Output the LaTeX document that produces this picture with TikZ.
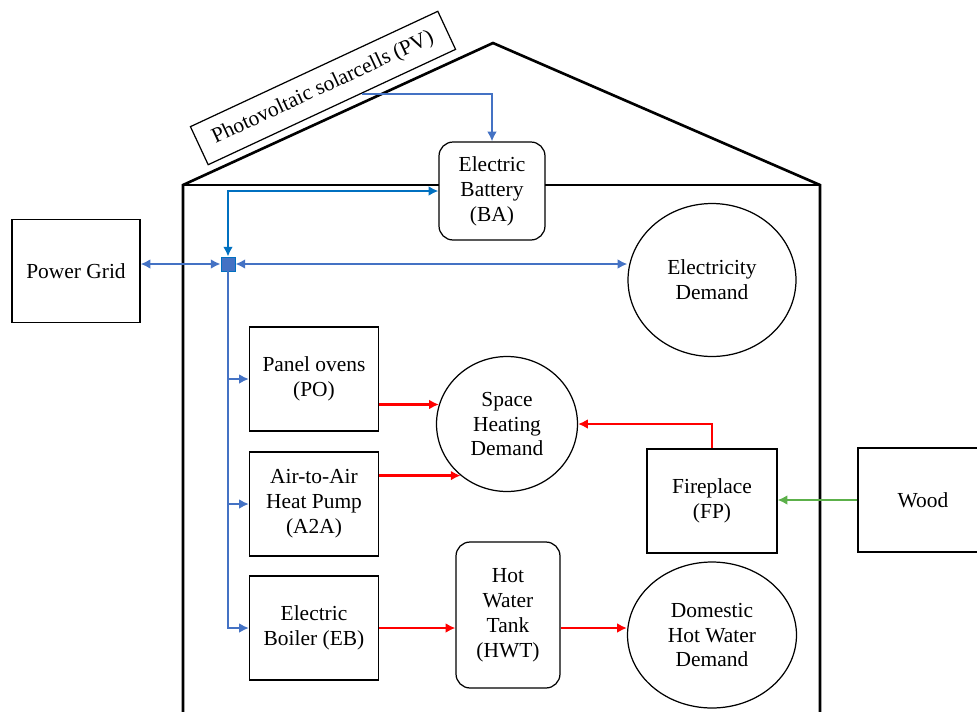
\documentclass[tikz,border=0pt]{standalone}
\usepackage{fontspec}
\setmainfont{Liberation Serif}
\usepackage{tikz}
\usetikzlibrary{arrows,arrows.meta,positioning,shapes,shapes.geometric,calc}

\definecolor{elblue}{RGB}{68,114,196}
\definecolor{batblue}{RGB}{0,112,192}
\definecolor{heatred}{RGB}{255,0,0}
\definecolor{woodgreen}{RGB}{92,176,74}

\begin{document}
\begin{tikzpicture}[x=0.02cm,y=-0.02cm,font=\fontsize{12.2}{14.2}\selectfont]
		\tikzstyle{house}=[line width=1.5pt,line join=miter]
		\tikzstyle{unit}=[draw,line width=0.7pt,fill=white,align=center,inner sep=0pt,minimum width=2.58cm,minimum height=2.08cm]
		\tikzstyle{store}=[unit,rounded corners=8pt]
		\tikzstyle{demand}=[draw,line width=0.7pt,fill=white,ellipse,align=center,inner sep=0pt]
		\tikzstyle{power}=[line width=1.2pt,elblue,arrows={-Latex[length=5.5pt,width=5.5pt]}]
		\tikzstyle{twoway}=[line width=1.2pt,elblue,arrows={Latex[length=5.5pt,width=5.5pt]-Latex[length=5.5pt,width=5.5pt]}]
		\tikzstyle{heat}=[line width=1.5pt,heatred,arrows={-Latex[length=5.5pt,width=5.5pt]}]
		\tikzstyle{fuel}=[line width=1.5pt,woodgreen,arrows={-Latex[length=5.5pt,width=5.5pt]}]
		
		\useasboundingbox (0,0) rectangle (977,711);
		
		% house outline
		\draw [house] (183,720) -- (183,185) -- (493,43) -- (820,185) -- (820,720);
		\draw [house] (183,185) -- (820,185);
		
		\node[unit, rotate=25, minimum width=5.46cm, minimum height=0.84cm] (pv) at (323,88) {Photovoltaic solarcells (PV)};
		\node[store, minimum width=2.12cm, minimum height=1.96cm] (bat) at (492,191) {Electric\\Battery\\(BA)};
		\node[unit, minimum width=2.56cm, minimum height=2.06cm] (pg) at (76,271) {Power Grid};
		\node[rectangle, draw=batblue, fill=elblue, line width=0.5pt, minimum size=0.28cm, inner sep=0pt] (jn) at (228,264) {};
		\node[demand, minimum width=3.36cm, minimum height=3.06cm] (ed) at (712,280) {Electricity\\Demand};
		
		\node[unit] (po) at (314,379) {Panel ovens\\(PO)};
		\node[unit] (a2a) at (314,504) {Air-to-Air\\Heat Pump\\(A2A)};
		\node[unit] (eb) at (314,628) {Electric\\Boiler (EB)};
		\node[demand, minimum width=2.82cm, minimum height=2.7cm] (sh) at (507,424) {Space\\Heating\\Demand};
		\node[store, minimum width=2.08cm, minimum height=2.92cm] (hwt) at (508,615) {Hot\\Water\\Tank\\(HWT)};
		\node[demand, minimum width=3.38cm, minimum height=2.92cm] (dhw) at (712,635) {Domestic\\Hot Water\\Demand};
		\node[unit, minimum width=2.6cm] (fp) at (712,501) {Fireplace\\(FP)};
		\node[unit, minimum width=2.6cm] (wood) at (923,500) {Wood};
		
		% electricity
		\draw [power] ($(pv.south)!0.24!(pv.south east)$) -| (bat.north);
		\draw [twoway, batblue] (bat.west) -| (jn.north);
		\draw [twoway] (pg.east |- jn) -- (jn.west);
		\draw [twoway] (jn.east) -- (ed.west |- jn);
		\draw [power] (jn.south) |- (eb.west);
		\draw [power] (jn.south |- po.west) -- (po.west);
		\draw [power] (jn.south |- a2a.west) -- (a2a.west);
		
		% heat
		\draw [heat] (po.east |- sh.164) -- (sh.164);
		\draw [heat] (a2a.east |- sh.228) -- (sh.228);
		\draw [heat] (fp.north) |- (sh.east);
		\draw [heat] (eb.east) -- (hwt.west |- eb.east);
		\draw [heat] (hwt.east |- eb.east) -- (dhw.west |- eb.east);
		
		\draw [fuel] (wood.west) -- (fp.east |- wood.west);
\end{tikzpicture}
\end{document}
